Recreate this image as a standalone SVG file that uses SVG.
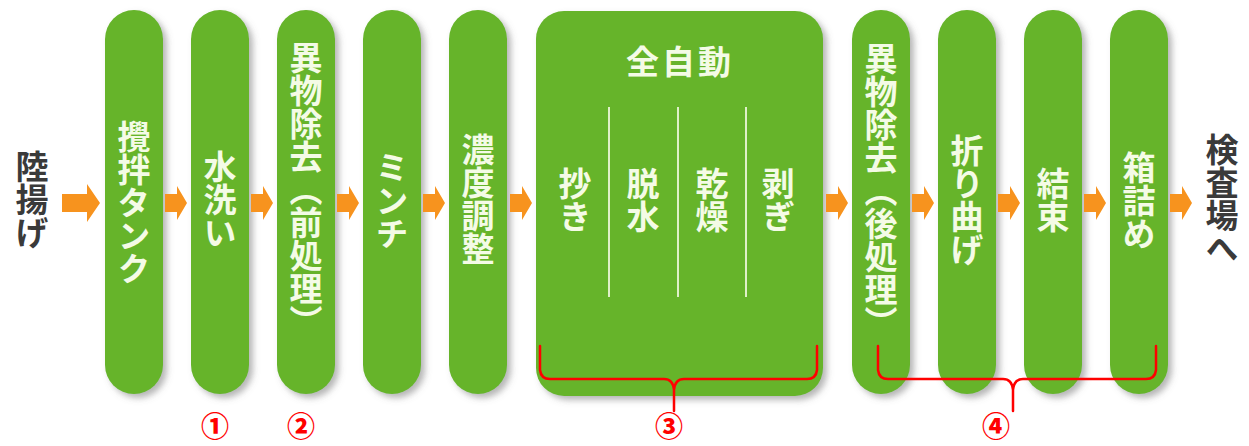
<svg xmlns="http://www.w3.org/2000/svg" xmlns:xlink="http://www.w3.org/1999/xlink" width="1249" height="446" viewBox="0 0 1249 446">
  <style>
    .pill { fill: #66b42b; filter: url(#sh); }
    .vt { font-family: "Noto Sans CJK JP", "Noto Sans", sans-serif; font-weight: 700; font-size: 33px; fill: #f4fbe6; writing-mode: vertical-rl; text-anchor: middle; }
    .dark { fill: #3a3a3a; }
    .arrow { fill: #f7931e; }
    .br { fill: none; stroke: #ff0000; stroke-width: 2.5; stroke-linecap: round; stroke-linejoin: round; }
    .num { font-family: "Noto Sans CJK JP", sans-serif; font-weight: 900; font-size: 28px; fill: #ff0000; text-anchor: middle; }
    .div { stroke: #dff0c8; stroke-width: 2; }
  </style>
  <defs>
    <filter id="sh" x="-30%" y="-10%" width="160%" height="120%">
      <feDropShadow dx="4" dy="4" stdDeviation="3" flood-color="#6d6d6d" flood-opacity="0.5"/>
    </filter>
    <path id="arr" d="M0,-9 L12,-9 L12,-17 L22,0 L12,17 L12,9 L0,9 Z"/>
  </defs>
  <rect width="1249" height="446" fill="#ffffff"/>

  <g id="start"><text class="vt dark" x="32" y="199">陸揚げ</text></g>

  <g id="n1"><rect class="pill" x="105" y="10" width="58" height="384" rx="29"/><text class="vt" x="134" y="202">攪拌タンク</text></g>
  <g id="n2"><rect class="pill" x="191" y="10" width="58" height="384" rx="29"/><text class="vt" x="220" y="199">水洗い</text></g>
  <g id="n3"><rect class="pill" x="277" y="10" width="58" height="384" rx="29"/><text class="vt" x="306" y="189">異物除去（前処理）</text></g>
  <g id="n4"><rect class="pill" x="363" y="10" width="58" height="384" rx="29"/><text class="vt" x="392" y="200">ミンチ</text></g>
  <g id="n5"><rect class="pill" x="449" y="10" width="58" height="384" rx="29"/><text class="vt" x="478" y="199">濃度調整</text></g>

  <g id="n6">
    <rect class="pill" x="536" y="11" width="287" height="385" rx="28"/>
    <text x="680" y="74" font-family="Noto Sans CJK JP, sans-serif" font-weight="700" font-size="33" fill="#f4fbe6" text-anchor="middle" letter-spacing="3">全自動</text>
    <line class="div" x1="609" y1="107" x2="609" y2="297"/>
    <line class="div" x1="678" y1="107" x2="678" y2="297"/>
    <line class="div" x1="746" y1="107" x2="746" y2="297"/>
    <text class="vt" x="575" y="200">抄き</text>
    <text class="vt" x="643" y="200">脱水</text>
    <text class="vt" x="712" y="200">乾燥</text>
    <text class="vt" x="778" y="200">剥ぎ</text>
  </g>

  <g id="n7"><rect class="pill" x="852" y="10" width="58" height="384" rx="29"/><text class="vt" x="881" y="190">異物除去（後処理）</text></g>
  <g id="n8"><rect class="pill" x="938" y="10" width="58" height="384" rx="29"/><text class="vt" x="967" y="200">折り曲げ</text></g>
  <g id="n9"><rect class="pill" x="1024" y="10" width="58" height="384" rx="29"/><text class="vt" x="1053" y="200">結束</text></g>
  <g id="n10"><rect class="pill" x="1110" y="10" width="58" height="384" rx="29"/><text class="vt" x="1139" y="200">箱詰め</text></g>

  <g id="end"><text class="vt dark" x="1222" y="199">検査場へ</text></g>

  <g id="connectors">
    <path class="arrow" d="M62,194 L87,194 L87,184 L100,203 L87,222 L87,212 L62,212 Z"/>
    <use class="arrow" xlink:href="#arr" x="165" y="203"/>
    <use class="arrow" xlink:href="#arr" x="251" y="203"/>
    <use class="arrow" xlink:href="#arr" x="337" y="203"/>
    <use class="arrow" xlink:href="#arr" x="423" y="203"/>
    <use class="arrow" xlink:href="#arr" x="510" y="203"/>
    <use class="arrow" xlink:href="#arr" x="826" y="203"/>
    <use class="arrow" xlink:href="#arr" x="912" y="203"/>
    <use class="arrow" xlink:href="#arr" x="998" y="203"/>
    <use class="arrow" xlink:href="#arr" x="1084" y="203"/>
    <use class="arrow" xlink:href="#arr" x="1170" y="203"/>
  </g>

  <g id="brackets">
    <path class="br" d="M540,346 L540,370 Q541,379 550,379 L664,379 Q673,379 674,390 Q675,379 684,379 L807,379 Q816,379 817,370 L817,346 M674,390 L674,411"/>
    <path class="br" d="M878,346 L878,370 Q879,379 888,379 L1003,379 Q1012,379 1013,390 Q1014,379 1023,379 L1146,379 Q1155,379 1156,370 L1156,346 M1013,390 L1013,411"/>
  </g>

  <g id="labels">
    <text class="num" x="215" y="437">①</text>
    <text class="num" x="301" y="437">②</text>
    <text class="num" x="669" y="437">③</text>
    <text class="num" x="996" y="437">④</text>
  </g>
</svg>
